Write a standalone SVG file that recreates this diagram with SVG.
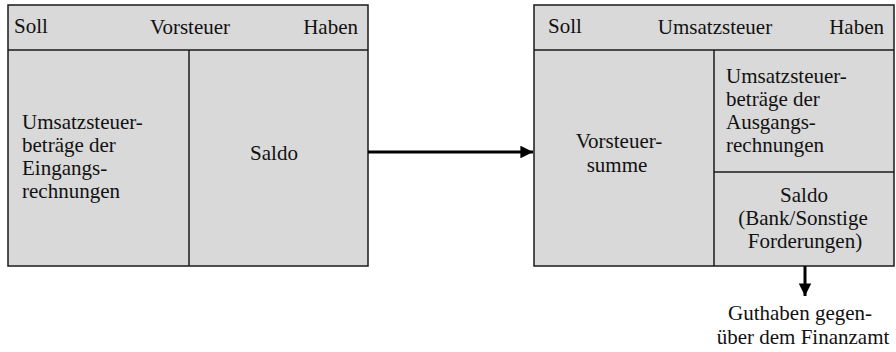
<svg xmlns="http://www.w3.org/2000/svg" width="896" height="352" viewBox="0 0 896 352">
<style>
.box{fill:#d9d9d9;stroke:#1a1a1a;stroke-width:1.5}
.ln{stroke:#1a1a1a;stroke-width:1.5;fill:none}
text{font-family:"Liberation Serif","Times New Roman",serif;font-size:21px;fill:#111}
.m{text-anchor:middle}
.e{text-anchor:end}
.conn{stroke:#000;stroke-width:3;fill:none}
</style>
<defs>
<marker id="ah" viewBox="0 0 10 10" refX="10" refY="5" markerWidth="4.2" markerHeight="4.2" markerUnits="strokeWidth" orient="auto">
<path d="M0,0 L10,5 L0,10 Z" fill="#000"/>
</marker>
</defs>
<g id="vorsteuer">
<rect class="box" x="8" y="5" width="360" height="261"/>
<line class="ln" x1="8" y1="50" x2="368" y2="50"/>
<line class="ln" x1="189" y1="50" x2="189" y2="266"/>
<text x="14" y="33">Soll</text>
<text class="m" x="190" y="34">Vorsteuer</text>
<text class="e" x="358" y="34">Haben</text>
<text x="22" y="129">Umsatzsteuer-</text>
<text x="22" y="152">beträge der</text>
<text x="22" y="175">Eingangs-</text>
<text x="22" y="198">rechnungen</text>
<text class="m" x="274" y="160">Saldo</text>
</g>
<g id="umsatzsteuer">
<rect class="box" x="534" y="5" width="360" height="261"/>
<line class="ln" x1="534" y1="50" x2="894" y2="50"/>
<line class="ln" x1="714" y1="50" x2="714" y2="266"/>
<line class="ln" x1="714" y1="172" x2="894" y2="172"/>
<text x="548" y="33">Soll</text>
<text class="m" x="715" y="34">Umsatzsteuer</text>
<text class="e" x="884" y="34">Haben</text>
<text x="726" y="83">Umsatzsteuer-</text>
<text x="726" y="106">beträge der</text>
<text x="726" y="129">Ausgangs-</text>
<text x="726" y="152">rechnungen</text>
<text class="m" x="619" y="148">Vorsteuer-</text>
<text class="m" x="617" y="172">summe</text>
<text class="m" x="804" y="202">Saldo</text>
<text class="m" x="803" y="225">(Bank/Sonstige</text>
<text class="m" x="805" y="248">Forderungen)</text>
</g>
<g id="guthaben">
<text class="m" x="800" y="320">Guthaben gegen-</text>
<text class="m" x="803" y="344">über dem Finanzamt</text>
</g>
<g id="connectors">
<line class="conn" x1="368" y1="152" x2="533" y2="152" marker-end="url(#ah)"/>
<line class="conn" x1="805" y1="266" x2="805" y2="296" marker-end="url(#ah)"/>
</g>
</svg>
